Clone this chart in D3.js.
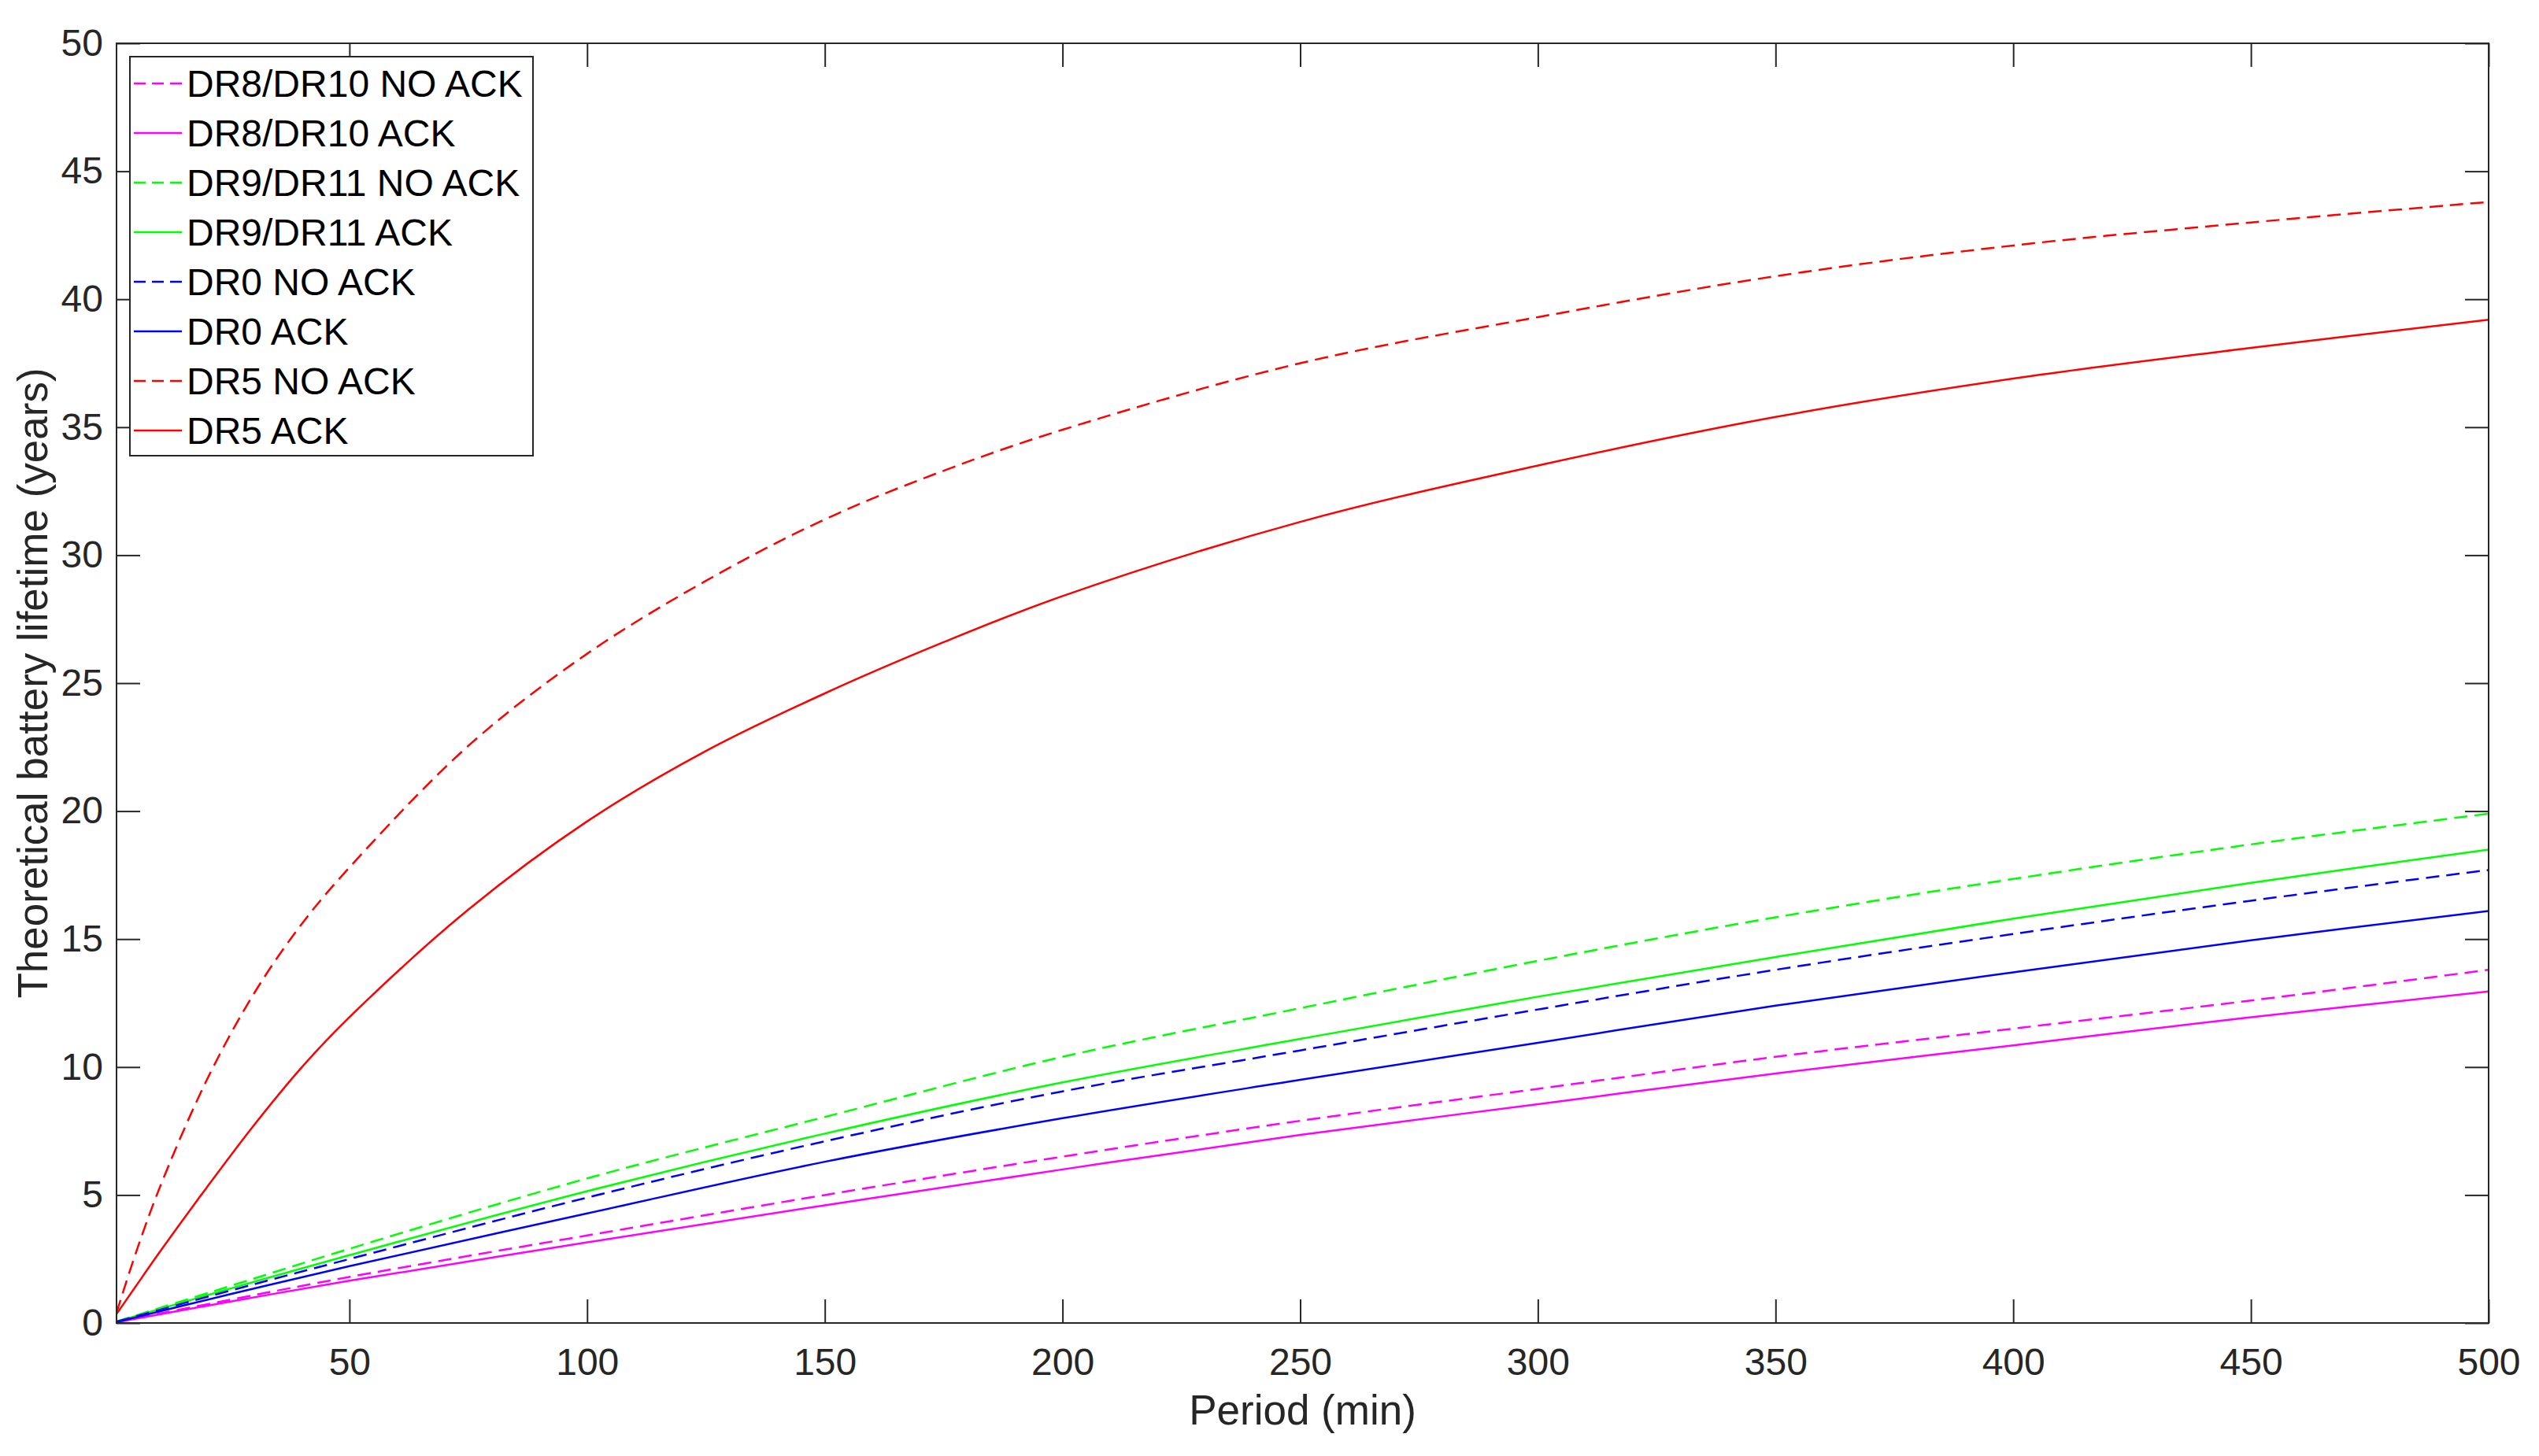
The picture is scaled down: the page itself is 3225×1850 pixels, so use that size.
<!DOCTYPE html>
<html>
<head>
<meta charset="utf-8">
<script src="https://cdn.jsdelivr.net/npm/d3@7"></script>
<style>
  body { margin: 0; background: #fff; }
  text { font-family: "Liberation Sans", Arial, Helvetica, sans-serif; }
</style>
</head>
<body>
<script>
var periodsRed = [1, 5, 10, 20, 30, 40, 50, 75, 100, 125, 150, 175, 200, 250, 300, 350, 400, 450, 500];
var periods = [1, 25, 50, 100, 150, 200, 250, 300, 350, 400, 450, 500];

// Lifetime (years).
var dr5NoAck = [0.4, 2.7, 5.25, 9.5, 12.9, 15.6, 17.8, 22.55, 26.15, 29.0, 31.4, 33.3, 34.9, 37.5, 39.3, 40.9, 42.1, 43.0, 43.8];
var dr5Ack = [0.35, 1.42, 2.75, 5.3, 7.75, 10.0, 11.95, 16.15, 19.6, 22.35, 24.6, 26.6, 28.4, 31.3, 33.5, 35.4, 36.9, 38.1, 39.2];
var dr9NoAck = [0.06, 1.45, 2.9, 5.65, 8.05, 10.4, 12.3, 14.15, 15.85, 17.35, 18.7, 19.9];
var dr9Ack = [0.05, 1.35, 2.65, 5.15, 7.4, 9.4, 11.1, 12.75, 14.3, 15.8, 17.2, 18.5];
var dr0NoAck = [0.05, 1.27, 2.5, 4.9, 7.1, 9.05, 10.65, 12.25, 13.8, 15.2, 16.5, 17.7];
var dr0Ack = [0.04, 1.13, 2.22, 4.28, 6.3, 8.0, 9.5, 10.95, 12.4, 13.7, 14.95, 16.1];
var dr8NoAck = [0.04, 0.91, 1.8, 3.42, 5.0, 6.5, 7.9, 9.15, 10.4, 11.5, 12.6, 13.8];
var dr8Ack = [0.03, 0.84, 1.65, 3.15, 4.6, 6.0, 7.35, 8.55, 9.75, 10.85, 11.95, 12.95];

var xTicks = [50, 100, 150, 200, 250, 300, 350, 400, 450, 500];
var yTicks = [0, 5, 10, 15, 20, 25, 30, 35, 40, 45, 50];

var series = [
  {name: "DR8/DR10 NO ACK", x: periods, y: dr8NoAck, color: "#ff00ff", dash: true},
  {name: "DR8/DR10 ACK", x: periods, y: dr8Ack, color: "#ff00ff", dash: false},
  {name: "DR9/DR11 NO ACK", x: periods, y: dr9NoAck, color: "#00ff00", dash: true},
  {name: "DR9/DR11 ACK", x: periods, y: dr9Ack, color: "#00ff00", dash: false},
  {name: "DR0 NO ACK", x: periods, y: dr0NoAck, color: "#0000ff", dash: true},
  {name: "DR0 ACK", x: periods, y: dr0Ack, color: "#0000ff", dash: false},
  {name: "DR5 NO ACK", x: periodsRed, y: dr5NoAck, color: "#ff0000", dash: true},
  {name: "DR5 ACK", x: periodsRed, y: dr5Ack, color: "#ff0000", dash: false}
];

var W = 3225, H = 1850;
var plotL = 148, plotR = 3161, plotT = 55, plotB = 1681;
var axisColor = "#262626";
var dashArr = "17,9";

var svg = d3.select("body").append("svg")
  .attr("width", W)
  .attr("height", H);

var x = d3.scaleLinear().domain([1, 500]).range([plotL, plotR]);
var y = d3.scaleLinear().domain([0, 50]).range([plotB, plotT]);

svg.append("clipPath").attr("id", "plotclip")
  .append("rect")
  .attr("x", plotL).attr("y", plotT)
  .attr("width", plotR - plotL).attr("height", plotB - plotT);

// Curves.
var line = d3.line()
  .x(function(d){ return x(d[0]); })
  .y(function(d){ return y(d[1]); })
  .curve(d3.curveCatmullRom.alpha(0.5));

svg.append("g").attr("clip-path", "url(#plotclip)")
  .selectAll("path")
  .data(series)
  .enter()
  .append("path")
    .attr("d", function(s){ return line(s.x.map(function(p, i){ return [p, s.y[i]]; })); })
    .attr("fill", "none")
    .attr("stroke", function(s){ return s.color; })
    .attr("stroke-width", 2.5)
    .attr("stroke-dasharray", function(s){ return s.dash ? dashArr : null; });

// Axes (ticks point inward, box on).
function styleAxis(g){
  g.select(".domain").remove();
  g.selectAll(".tick line").attr("stroke", axisColor).attr("stroke-width", 2);
  g.selectAll(".tick text").attr("fill", axisColor).attr("font-size", 48);
}

svg.append("g")
  .attr("transform", "translate(0," + plotB + ")")
  .call(d3.axisBottom(x).tickValues(xTicks).tickSizeInner(-30).tickSizeOuter(0).tickPadding(32))
  .call(styleAxis);

svg.append("g")
  .attr("transform", "translate(0," + plotT + ")")
  .call(d3.axisTop(x).tickValues(xTicks).tickSizeInner(-30).tickSizeOuter(0).tickFormat(""))
  .call(styleAxis);

svg.append("g")
  .attr("transform", "translate(" + plotL + ",0)")
  .call(d3.axisLeft(y).tickValues(yTicks).tickSizeInner(-30).tickSizeOuter(0).tickPadding(17))
  .call(styleAxis);

svg.append("g")
  .attr("transform", "translate(" + plotR + ",0)")
  .call(d3.axisRight(y).tickValues(yTicks).tickSizeInner(-30).tickSizeOuter(0).tickFormat(""))
  .call(styleAxis);

svg.append("rect")
  .attr("x", plotL).attr("y", plotT)
  .attr("width", plotR - plotL).attr("height", plotB - plotT)
  .attr("fill", "none")
  .attr("stroke", axisColor)
  .attr("stroke-width", 2);

// Axis labels.
svg.append("text")
  .attr("x", (plotL + plotR) / 2)
  .attr("y", 1810)
  .attr("text-anchor", "middle")
  .attr("font-size", 53)
  .attr("fill", axisColor)
  .text("Period (min)");

svg.append("text")
  .attr("transform", "translate(60," + ((plotT + plotB) / 2) + ") rotate(-90)")
  .attr("text-anchor", "middle")
  .attr("font-size", 53)
  .attr("fill", axisColor)
  .text("Theoretical battery lifetime (years)");

// Legend.
var legend = svg.append("g");
legend.append("rect")
  .attr("x", 165).attr("y", 72)
  .attr("width", 512).attr("height", 507)
  .attr("fill", "#fff")
  .attr("stroke", axisColor)
  .attr("stroke-width", 2);

var rows = legend.selectAll("g.row")
  .data(series)
  .enter()
  .append("g")
    .attr("class", "row")
    .attr("transform", function(d, i){ return "translate(0," + (106 + i * 63) + ")"; });

rows.append("line")
  .attr("x1", 170).attr("x2", 231)
  .attr("stroke", function(s){ return s.color; })
  .attr("stroke-width", 2.5)
  .attr("stroke-dasharray", function(s){ return s.dash ? "15,8" : null; });

rows.append("text")
  .attr("x", 237)
  .attr("dy", "0.35em")
  .attr("font-size", 48)
  .attr("fill", "#000")
  .text(function(s){ return s.name; });
</script>
</body>
</html>
